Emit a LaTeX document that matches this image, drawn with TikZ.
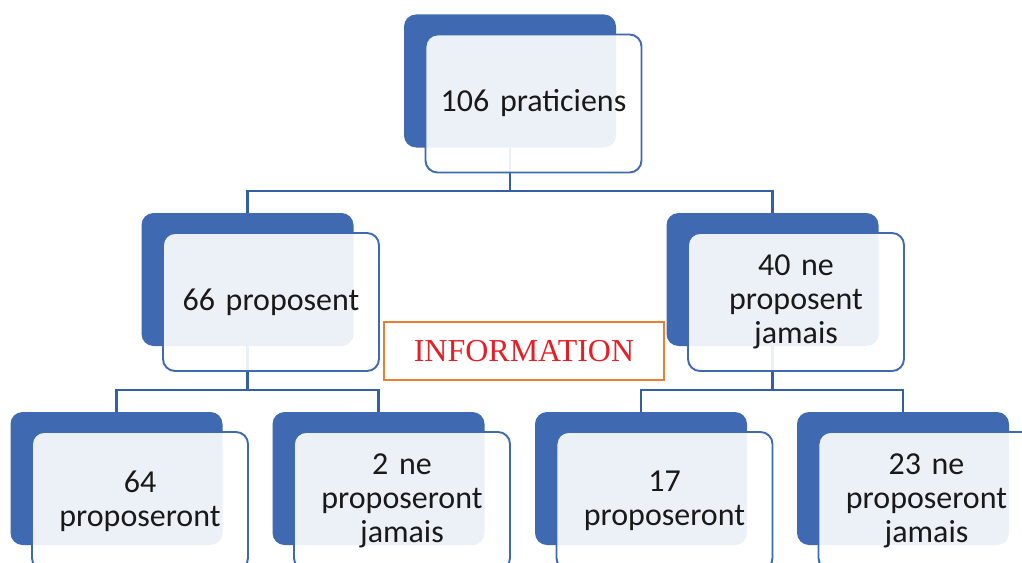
\documentclass[tikz,border=0pt]{standalone}
\usepackage{fontspec}
\setmainfont{Carlito}
\newfontfamily\timesfont{Liberation Serif}
\definecolor{smartblue}{RGB}{63,106,177}
\definecolor{linkblue}{RGB}{52,95,166}
\definecolor{infoorange}{RGB}{237,125,49}
\definecolor{infored}{RGB}{232,30,37}
\definecolor{textgray}{RGB}{25,25,25}
\tikzset{
  backbox/.style={rectangle, rounded corners=0.24cm, fill=smartblue, inner sep=0pt,
                  minimum width=4.24cm, minimum height=2.66cm},
  frontbox/.style={rectangle, rounded corners=0.24cm, draw=smartblue, line width=1.1pt,
                   fill=white, fill opacity=0.9, text opacity=1, text=textgray,
                   minimum width=4.32cm, minimum height=2.76cm, align=center, text width=4cm,
                   font=\fontsize{18.2}{19.4}\selectfont, xshift=0.47cm, yshift=-0.45cm},
  link/.style={draw=linkblue, line width=1.3pt},
  infobox/.style={rectangle, draw=infoorange, line width=1.3pt, fill=white,
                  minimum width=5.6cm, minimum height=1.16cm, text=infored,
                  font=\timesfont\fontsize{18.2}{20}\selectfont},
}
\begin{document}
\begin{tikzpicture}
\clip (0,0) rectangle (20.44,-11.26);
% back boxes
\foreach \n/\x/\y in {root/10.2/-1.62, l2a/4.95/-5.59, l2b/15.45/-5.59,
                      l3a/2.33/-9.57, l3b/7.57/-9.57, l3c/12.82/-9.57, l3d/18.06/-9.57}
  \node[backbox] (\n-b) at (\x,\y) {};
% connectors
\foreach \a/\b in {root/l2a, root/l2b, l2a/l3a, l2a/l3b, l2b/l3c, l2b/l3d}
  \draw[link] (\a-b.south) -- ++(0,-0.87) -| (\b-b.north);
% front boxes
\foreach \n/\t in {root/{106 praticiens}, l2a/{66 proposent}, l2b/{40 ne\\proposent\\jamais},
                   l3a/{64\\proposeront}, l3b/{2 ne\\proposeront\\jamais},
                   l3c/{17\\proposeront}, l3d/{23 ne\\proposeront\\jamais}}
  \node[frontbox] (\n) at (\n-b) {\t};
\node[infobox] (info) at (10.48,-7.02) {INFORMATION};
\end{tikzpicture}
\end{document}
